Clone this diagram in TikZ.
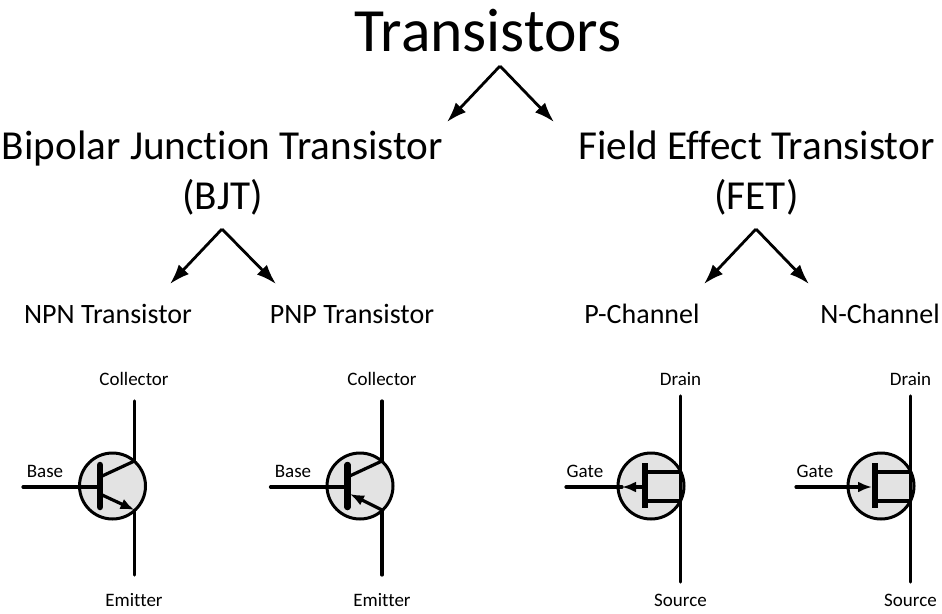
\documentclass[tikz,border=0pt]{standalone}
\usepackage{fontspec}
\setmainfont[Ligatures=NoCommon]{Carlito}
\usetikzlibrary{arrows.meta}
\definecolor{bodygray}{HTML}{E3E3E3}
\tikzset{
    bigtitle/.style={anchor=base,font=\fontsize{61.5}{62}\selectfont,inner sep=0pt},
    heading/.style={anchor=base,font=\fontsize{41.2}{42}\selectfont,inner sep=0pt},
    subhead/.style={anchor=base,font=\fontsize{28}{29}\selectfont,inner sep=0pt},
    pinlabel/.style={anchor=base,font=\fontsize{19}{20}\selectfont,inner sep=0pt},
    branch/.style={line width=2.8pt,-{Latex[length=20pt,width=14pt]}},
    wire/.style={line width=3.2pt,line cap=round},
    smalltip/.style={wire,-{Latex[length=14pt,width=11pt]}},
    bar/.style={line width=6.5pt},
    housing/.style={circle,draw,line width=3pt,fill=bodygray,minimum size=66pt,inner sep=0pt},
}
\begin{document}
\begin{tikzpicture}[x=1pt,y=-1pt,line cap=butt]
    \useasboundingbox (0,0) rectangle (942,613);

    % text at the top
    \node[bigtitle] (title) at (488,51.5) {Transistors};
    \node[heading] (bjtname) at (222.5,159) {Bipolar Junction Transistor};
    \node[heading] (bjtshort) at (222.5,209) {(BJT)};
    \node[heading] (fetname) at (756.5,159) {Field Effect Transistor};
    \node[heading] (fetshort) at (756.5,209) {(FET)};
    \node[subhead] (npnname) at (108,323) {NPN Transistor};
    \node[subhead] (pnpname) at (352,323) {PNP Transistor};
    \node[subhead] (pname) at (642,323) {P-Channel};
    \node[subhead] (nname) at (880,323) {N-Channel};

    % branches
    \coordinate (topfork) at (500,66);
    \coordinate (bjtfork) at (222,229);
    \coordinate (fetfork) at (756,229);
    \coordinate (bjtend) at (447,122);
    \coordinate (fetend) at (554,122);
    \coordinate (npnend) at (170,284);
    \coordinate (pnpend) at (276,284);
    \coordinate (pend) at (704,284);
    \coordinate (nend) at (809,284);
    \draw[branch] (topfork) -- (bjtend);
    \draw[branch] (topfork) -- (fetend);
    \draw[branch] (bjtfork) -- (npnend);
    \draw[branch] (bjtfork) -- (pnpend);
    \draw[branch] (fetfork) -- (pend);
    \draw[branch] (fetfork) -- (nend);

    % npn
    \begin{scope}[name prefix=npn-]
        \node[housing] (body) at (112.5,486) {};
        \coordinate (top) at (134.5,401);
        \coordinate (bottom) at (134.5,575);
        \coordinate (upper) at (134.5,461);
        \coordinate (lower) at (134.5,510);
        \coordinate (in) at (23,487);
        \coordinate (bartop) at (100,465);
        \coordinate (barbot) at (100,507);
        \coordinate (barmid) at (100,487);
        \coordinate (barup) at (100,477);
        \coordinate (bardown) at (100,494);
        \draw[wire] (top) -- (upper);
        \draw[wire] (lower) -- (bottom);
        \draw[wire] (in) -- (barmid);
        \draw[wire] (barup) -- (upper);
        \draw[smalltip] (bardown) -- (lower);
        \draw[bar,line cap=round] (bartop) -- (barbot);
        \node[pinlabel] (collector) at (134,385) {Collector};
        \node[pinlabel] (base) at (45,477) {Base};
        \node[pinlabel] (emitter) at (134,606) {Emitter};
    \end{scope}

    % pnp
    \begin{scope}[name prefix=pnp-]
        \node[housing] (body) at (360,486) {};
        \coordinate (top) at (382,401);
        \coordinate (bottom) at (382,575);
        \coordinate (upper) at (382,461);
        \coordinate (lower) at (382,510);
        \coordinate (in) at (270.5,487);
        \coordinate (bartop) at (347.5,465);
        \coordinate (barbot) at (347.5,507);
        \coordinate (barmid) at (347.5,487);
        \coordinate (barup) at (347.5,477);
        \coordinate (bardown) at (350,494);
        \draw[wire] (top) -- (upper);
        \draw[wire] (lower) -- (bottom);
        \draw[wire] (in) -- (barmid);
        \draw[wire] (barup) -- (upper);
        \draw[smalltip] (lower) -- (bardown);
        \draw[bar,line cap=round] (bartop) -- (barbot);
        \node[pinlabel] (collector) at (382,385) {Collector};
        \node[pinlabel] (base) at (293,477) {Base};
        \node[pinlabel] (emitter) at (382,606) {Emitter};
    \end{scope}

    % p-channel
    \begin{scope}[name prefix=pch-]
        \node[housing] (body) at (651,486) {};
        \coordinate (top) at (680.5,396);
        \coordinate (bottom) at (680.5,582);
        \coordinate (in) at (566,487);
        \coordinate (wall) at (622,487);
        \coordinate (bartop) at (645,463);
        \coordinate (barbot) at (645,508);
        \coordinate (barmid) at (645,487);
        \coordinate (barup) at (645,472);
        \coordinate (bardown) at (645,501);
        \coordinate (upper) at (680.5,472);
        \coordinate (lower) at (680.5,501);
        \draw[wire] (top) -- (bottom);
        \draw[wire] (in) -- (wall);
        \draw[smalltip] (barmid) -- (wall);
        \draw[wire] (barup) -- (upper);
        \draw[wire] (bardown) -- (lower);
        \draw[bar] (bartop) -- (barbot);
        \node[pinlabel] (drain) at (680.5,385) {Drain};
        \node[pinlabel] (gate) at (585,477) {Gate};
        \node[pinlabel] (source) at (680.5,606) {Source};
    \end{scope}

    % n-channel
    \begin{scope}[name prefix=nch-]
        \node[housing] (body) at (881,486) {};
        \coordinate (top) at (910.5,396);
        \coordinate (bottom) at (910.5,582);
        \coordinate (in) at (796,487);
        \coordinate (bartop) at (875,463);
        \coordinate (barbot) at (875,508);
        \coordinate (barmid) at (872,487);
        \coordinate (barup) at (875,472);
        \coordinate (bardown) at (875,501);
        \coordinate (upper) at (910.5,472);
        \coordinate (lower) at (910.5,501);
        \draw[wire] (top) -- (bottom);
        \draw[smalltip] (in) -- (barmid);
        \draw[wire] (barup) -- (upper);
        \draw[wire] (bardown) -- (lower);
        \draw[bar] (bartop) -- (barbot);
        \node[pinlabel] (drain) at (910.5,385) {Drain};
        \node[pinlabel] (gate) at (815,477) {Gate};
        \node[pinlabel] (source) at (910.5,606) {Source};
    \end{scope}
\end{tikzpicture}
\end{document}
